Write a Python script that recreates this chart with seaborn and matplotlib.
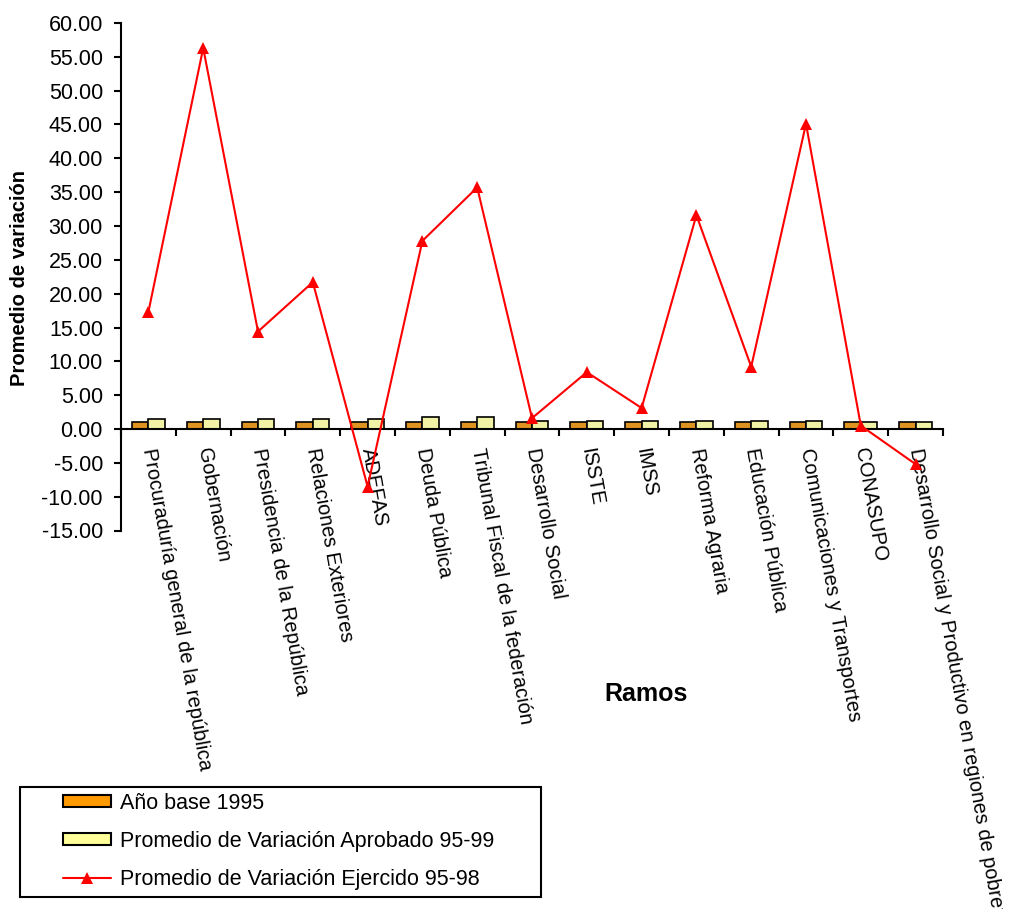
import numpy as np
import pandas as pd
import matplotlib
matplotlib.use("Agg")
import matplotlib.pyplot as plt
from matplotlib.patches import Patch, Rectangle
from matplotlib.lines import Line2D
from matplotlib.ticker import FormatStrFormatter, FixedLocator
import seaborn as sns

# ---- data -------------------------------------------------------------
categories = [
    "Procuraduría general de la república",
    "Gobernación",
    "Presidencia de la República",
    "Relaciones Exteriores",
    "ADEFAS",
    "Deuda Pública",
    "Tribunal Fiscal de la federación",
    "Desarrollo Social",
    "ISSTE",
    "IMSS",
    "Reforma Agraria",
    "Educación Pública",
    "Comunicaciones y Transportes",
    "CONASUPO",
    "Desarrollo Social y Productivo en regiones de pobreza",
]
base_1995 = [1.0, 1.0, 1.0, 1.0, 1.0, 1.0, 1.0, 1.0, 1.0, 1.0, 1.0, 1.0, 1.0, 1.0, 1.0]
aprobado_95_99 = [1.5, 1.5, 1.5, 1.5, 1.5, 1.8, 1.8, 1.2, 1.2, 1.2, 1.2, 1.2, 1.2, 1.0, 1.0]
ejercido_95_98 = [17.3, 56.3, 14.4, 21.7, -8.5, 27.8, 35.7, 1.6, 8.4, 3.1,
                  31.6, 9.2, 45.1, 0.5, -5.2]
series_names = ["Año base 1995",
                "Promedio de Variación Aprobado 95-99",
                "Promedio de Variación Ejercido 95-98"]
y_ticks = list(range(-15, 61, 5))

bar_colors = ["#FF9900", "#FFFF99"]
line_color = "#FF0000"

# ---- style ------------------------------------------------------------
sns.set_theme(style="ticks")
plt.rcParams["font.family"] = ["Liberation Sans", "DejaVu Sans"]
plt.rcParams["axes.unicode_minus"] = False
plt.rcParams["text.color"] = "black"
plt.rcParams["xtick.color"] = "black"
plt.rcParams["ytick.color"] = "black"

W, H = 1013, 909
fig = plt.figure(figsize=(W / 100, H / 100), dpi=100)
fig.patch.set_facecolor("white")

# axes box in pixel terms: x 121..943, y(60)=23 .. y(-15)=530.5
x0, x1, ytop, ybot = 121, 943, 23, 530.5
ax = fig.add_axes([x0 / W, (H - ybot) / H, (x1 - x0) / W, (ybot - ytop) / H])
ax.set_facecolor("white")

bars = pd.DataFrame({
    "Ramo": categories * 2,
    "Serie": [series_names[0]] * len(categories) + [series_names[1]] * len(categories),
    "Valor": base_1995 + aprobado_95_99,
})
sns.barplot(data=bars, x="Ramo", y="Valor", hue="Serie", order=categories,
            hue_order=series_names[:2], palette=bar_colors, width=0.6, gap=0,
            edgecolor="black", linewidth=1.2, errorbar=None, legend=False, ax=ax)

sns.pointplot(x=categories, y=ejercido_95_98, order=categories, color=line_color,
              markers="^", markersize=8.5, linewidth=1.5, linestyles="-",
              errorbar=None, ax=ax)
for ln in ax.lines:
    ln.set_zorder(4)
    ln.set_markeredgewidth(0)

# ---- axes -------------------------------------------------------------
ax.set_xlim(-0.5, len(categories) - 0.5)
ax.set_ylim(-15, 60)
ax.set_yticks(y_ticks)
ax.yaxis.set_major_formatter(FormatStrFormatter("%.2f"))
ax.tick_params(axis="y", length=5, width=1.5, pad=8, labelsize=15.5)

for side in ("top", "right"):
    ax.spines[side].set_visible(False)
ax.spines["left"].set_linewidth(1.5)
ax.spines["bottom"].set_linewidth(1.5)
ax.spines["left"].set_color("black")
ax.spines["bottom"].set_color("black")
ax.spines["bottom"].set_position(("data", 0))
ax.spines["bottom"].set_zorder(3)

ax.set_xticks(range(len(categories)))
ax.set_xticklabels(categories, rotation=-80, ha="left", va="center",
                   rotation_mode="anchor", fontsize=14.5)
ax.tick_params(axis="x", which="major", length=0, pad=14)
ax.xaxis.set_minor_locator(FixedLocator(np.arange(-0.5, len(categories), 1.0)))
ax.tick_params(axis="x", which="minor", length=5, width=1.5, direction="out")
ax.set_xlabel("")
ax.set_ylabel("")

# axis titles
fig.text(20 / W, 1 - 278 / H, "Promedio de variación", rotation=90,
         ha="center", va="center", fontsize=14.5, fontweight="bold")
fig.text(646 / W, 1 - 694 / H, "Ramos", ha="center", va="center",
         fontsize=18, fontweight="bold")

# ---- legend -----------------------------------------------------------
handles = [
    Patch(facecolor=bar_colors[0], edgecolor="black", linewidth=1.5),
    Patch(facecolor=bar_colors[1], edgecolor="black", linewidth=1.5),
    Line2D([], [], color=line_color, lw=1.5, marker="^", markersize=8.5,
           markeredgewidth=0),
]
fs = 15.5
fig.legend(handles, series_names, loc="upper left",
           bbox_to_anchor=(62.5 / W, 1 - 793 / H), frameon=False,
           borderpad=0, borderaxespad=0, fontsize=fs,
           handlelength=2.27, handleheight=0.47, handletextpad=0.4,
           labelspacing=0.78)
fig.add_artist(Rectangle((20 / W, 1 - 897 / H), (541 - 20) / W, (897 - 787) / H,
                         transform=fig.transFigure, fill=False,
                         edgecolor="black", linewidth=1.5))

fig.savefig("out.png", dpi=100, facecolor="white")
